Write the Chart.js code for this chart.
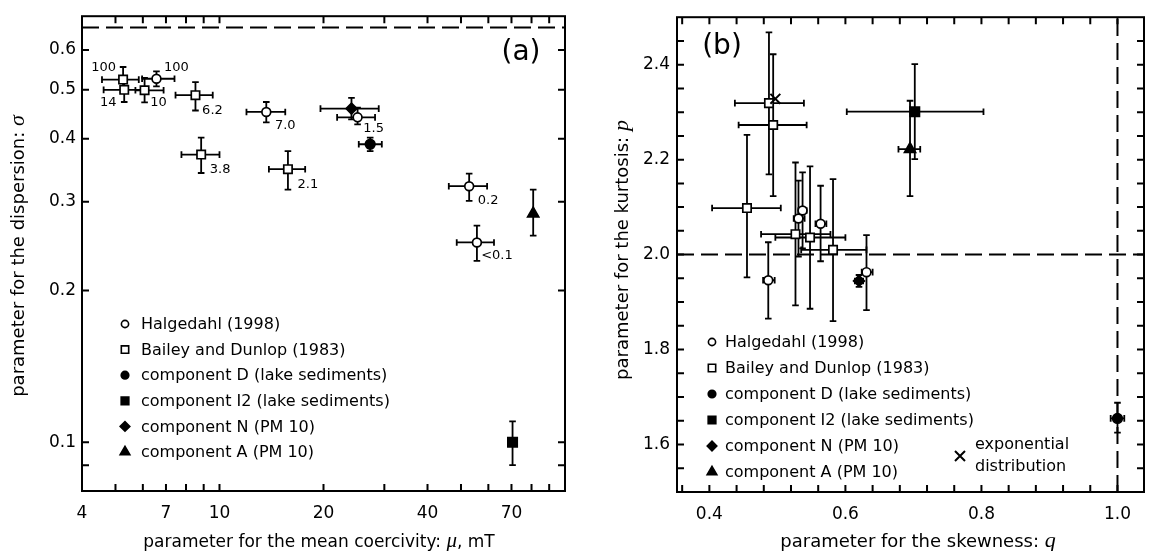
<!DOCTYPE html>
<html><head><meta charset="utf-8">
<script src="https://cdn.jsdelivr.net/npm/chart.js@4.4.1/dist/chart.umd.min.js"></script>
<style>
html,body{margin:0;padding:0;background:#fff;}
#wrap{position:relative;width:1153px;height:551px;overflow:hidden;background:#fff;}
#cA{position:absolute;left:0;top:0;}
#cB{position:absolute;left:580px;top:0;}
</style></head><body>
<div id="wrap"><canvas id="cA" width="580" height="551"></canvas><canvas id="cB" width="573" height="551"></canvas></div>
<script>
// ---------------- Panel (a): mean coercivity mu (mT) vs dispersion sigma ----------------
const muTickLabels    = [4, 7, 10, 20, 40, 70];
const muTickMarks     = [5, 6, 7, 8, 9, 10, 20, 30, 40, 50, 60, 70, 80, 90];
const sigmaTickLabels = [0.1, 0.2, 0.3, 0.4, 0.5, 0.6];
const sigmaTickMarks  = [0.09, 0.1, 0.2, 0.3, 0.4, 0.5, 0.6];
const sigmaLimit      = 0.665;

const halgA_mu    = [6.57, 13.66, 25.1, 52.8, 55.6];
const halgA_sig   = [0.526, 0.452, 0.441, 0.322, 0.249];
const halgA_muLo  = [5.97, 11.97, 21.9, 46.1, 48.6];
const halgA_muHi  = [7.41, 15.5, 28.2, 59.5, 62.3];
const halgA_sigLo = [0.508, 0.431, 0.427, 0.301, 0.229];
const halgA_sigHi = [0.544, 0.473, 0.461, 0.341, 0.269];
const halgA_text  = ['100', '7.0', '1.5', '0.2', '<0.1'];

const bailA_mu    = [5.26, 5.30, 6.07, 8.52, 8.85, 15.78];
const bailA_sig   = [0.524, 0.500, 0.499, 0.488, 0.372, 0.348];
const bailA_muLo  = [4.57, 4.62, 5.71, 7.46, 7.76, 13.9];
const bailA_muHi  = [5.84, 6.02, 6.89, 9.56, 10.0, 17.7];
const bailA_sigLo = [0.495, 0.473, 0.472, 0.455, 0.342, 0.317];
const bailA_sigHi = [0.555, 0.528, 0.528, 0.518, 0.402, 0.378];
const bailA_text  = ['100', '14', '10', '6.2', '3.8', '2.1'];

const compDA_mu = [27.3], compDA_sig = [0.390], compDA_muLo = [25.3], compDA_muHi = [29.5], compDA_sigLo = [0.378], compDA_sigHi = [0.402];
const compI2A_mu = [70.5], compI2A_sig = [0.100], compI2A_sigLo = [0.090], compI2A_sigHi = [0.110];
const compNA_mu = [24.1], compNA_sig = [0.459], compNA_muLo = [19.6], compNA_muHi = [28.9], compNA_sigLo = [0.437], compNA_sigHi = [0.482];
const compAA_mu = [80.9], compAA_sig = [0.284], compAA_sigLo = [0.257], compAA_sigHi = [0.317];

// ---------------- Panel (b): skewness q vs kurtosis p ----------------
const qTickLabels = [0.4, 0.6, 0.8, 1.0];
const qTickMarks  = [0.36, 0.40, 0.44, 0.48, 0.52, 0.56, 0.60, 0.64, 0.68, 0.72, 0.76, 0.80, 0.84, 0.88, 0.92, 0.96, 1.00];
const pTickLabels = [1.6, 1.8, 2.0, 2.2, 2.4];
const pTickMarks  = [1.55, 1.60, 1.65, 1.70, 1.75, 1.80, 1.85, 1.90, 1.95, 2.00, 2.05, 2.10, 2.15, 2.20, 2.25, 2.30, 2.35, 2.40, 2.45];
const pGauss = 2.0, qSym = 1.0;

const halgB_q   = [0.537, 0.531, 0.5635, 0.4866, 0.631];
const halgB_p   = [2.093, 2.076, 2.065, 1.946, 1.963];
const halgB_qLo = [0.531, 0.524, 0.556, 0.479, 0.624];
const halgB_qHi = [0.543, 0.540, 0.572, 0.496, 0.640];
const halgB_pLo = [2.013, 1.996, 1.986, 1.865, 1.883];
const halgB_pHi = [2.173, 2.156, 2.145, 2.026, 2.041];

const bailB_q   = [0.4876, 0.4938, 0.4553, 0.5266, 0.548, 0.5818];
const bailB_p   = [2.319, 2.273, 2.098, 2.043, 2.036, 2.010];
const bailB_qLo = [0.4375, 0.443, 0.404, 0.476, 0.497, 0.535];
const bailB_qHi = [0.539, 0.543, 0.505, 0.578, 0.600, 0.631];
const bailB_pLo = [2.169, 2.123, 1.952, 1.893, 1.886, 1.860];
const bailB_pHi = [2.468, 2.422, 2.252, 2.194, 2.186, 2.159];

const compDB_q = [1.0], compDB_p = [1.655], compDB_qLo = [0.99], compDB_qHi = [1.01], compDB_pLo = [1.625], compDB_pHi = [1.688];
const compI2B_q = [0.702], compI2B_p = [2.301], compI2B_qLo = [0.602], compI2B_qHi = [0.803], compI2B_pLo = [2.201], compI2B_pHi = [2.401];
const compNB_q = [0.620], compNB_p = [1.9445], compNB_qLo = [0.614], compNB_qHi = [0.626], compNB_pLo = [1.932], compNB_pHi = [1.957];
const compAB_q = [0.695], compAB_p = [2.222], compAB_qLo = [0.678], compAB_qHi = [0.710], compAB_pLo = [2.123], compAB_pHi = [2.324];
const expo_q = [0.497], expo_p = [2.328];

const legendLabels = ['Halgedahl (1998)', 'Bailey and Dunlop (1983)', 'component D (lake sediments)',
  'component I2 (lake sediments)', 'component N (PM 10)', 'component A (PM 10)'];
const expoLabel = ['exponential', 'distribution'];

// ---------------- styles ----------------
const SANS = '"DejaVu Sans", "Liberation Sans", sans-serif';
const SERIF_I = 'italic 22px "Liberation Serif", "DejaVu Serif", serif';
const TITLE_FONT = '18px ' + SANS;
const XTITLE_FONT = '17px ' + SANS;
const XSERIF_I = 'italic 21px "Liberation Serif", "DejaVu Serif", serif';
const styles = [
  {pointStyle: 'circle',   radius: 4.4, bg: '#fff', lr: 3.6},
  {pointStyle: 'rect',     radius: 5.9, bg: '#fff', lr: 5.2},
  {pointStyle: 'circle',   radius: 4.8, bg: '#000', lr: 3.8},
  {pointStyle: 'rect',     radius: 6.6, bg: '#000', lr: 5.4},
  {pointStyle: 'rectRot',  radius: 5.4, bg: '#000', lr: 4.8},
  {pointStyle: 'triangle', radius: 6.4, bg: '#000', lr: 5.6}
];
const halgLabelOffsets = [[20, -11.5], [19, 13.5], [16, 11], [19, 14], [20, 13]];
const bailLabelOffsets = [[-19.5, -11.7], [-16, 12.5], [14, 12.5], [17, 15], [19, 15], [20, 15]];

function pts(xs, ys) { return xs.map((v, i) => ({x: v, y: ys[i]})); }
function errs(n, xl, xh, yl, yh) {
  const out = [];
  for (let i = 0; i < n; i++) out.push({xl: xl ? xl[i] : null, xh: xh ? xh[i] : null, yl: yl ? yl[i] : null, yh: yh ? yh[i] : null});
  return out;
}
function markerDs(label, styleIdx, data, err, extra) {
  const s = styles[styleIdx];
  return Object.assign({
    label, data, err,
    pointStyle: s.pointStyle, pointRadius: s.radius,
    pointBackgroundColor: s.bg, pointBorderColor: '#000', pointBorderWidth: 1.7,
    showLine: false, order: 1
  }, extra || {});
}
function lineDs(data) {
  return {label: 'ref', data, showLine: true, borderColor: '#000', borderWidth: 2,
    borderDash: [17, 7], pointRadius: 0, order: 10, fill: false};
}

const errPlugin = {
  id: 'errbars',
  beforeDatasetsDraw(chart) {
    const ctx = chart.ctx, xs = chart.scales.x, ys = chart.scales.y;
    ctx.save(); ctx.strokeStyle = '#000'; ctx.lineWidth = 1.8; ctx.setLineDash([]);
    const cap = 3.3;
    chart.data.datasets.forEach(ds => {
      if (!ds.err) return;
      ds.data.forEach((pt, i) => {
        const e = ds.err[i];
        const px = xs.getPixelForValue(pt.x), py = ys.getPixelForValue(pt.y);
        ctx.beginPath();
        if (e.xl != null) {
          const a = xs.getPixelForValue(e.xl), b = xs.getPixelForValue(e.xh);
          ctx.moveTo(a, py); ctx.lineTo(b, py);
          ctx.moveTo(a, py - cap); ctx.lineTo(a, py + cap);
          ctx.moveTo(b, py - cap); ctx.lineTo(b, py + cap);
        }
        if (e.yl != null) {
          const a = ys.getPixelForValue(e.yl), b = ys.getPixelForValue(e.yh);
          ctx.moveTo(px, a); ctx.lineTo(px, b);
          ctx.moveTo(px - cap, a); ctx.lineTo(px + cap, a);
          ctx.moveTo(px - cap, b); ctx.lineTo(px + cap, b);
        }
        ctx.stroke();
      });
    });
    ctx.restore();
  }
};

function makeFrame(xMarks, yMarks) {
  return {
    id: 'frame',
    afterDatasetsDraw(chart) {
      const ctx = chart.ctx, a = chart.chartArea, xs = chart.scales.x, ys = chart.scales.y;
      const len = 7;
      ctx.save(); ctx.strokeStyle = '#000'; ctx.lineWidth = 2; ctx.setLineDash([]);
      ctx.strokeRect(a.left, a.top, a.right - a.left, a.bottom - a.top);
      ctx.beginPath();
      xMarks.forEach(v => { const x = xs.getPixelForValue(v);
        ctx.moveTo(x, a.bottom); ctx.lineTo(x, a.bottom - len);
        ctx.moveTo(x, a.top); ctx.lineTo(x, a.top + len); });
      yMarks.forEach(v => { const y = ys.getPixelForValue(v);
        ctx.moveTo(a.left, y); ctx.lineTo(a.left + len, y);
        ctx.moveTo(a.right, y); ctx.lineTo(a.right - len, y); });
      ctx.stroke(); ctx.restore();
    }
  };
}

function drawMarker(ctx, s, x, y, r) {
  ctx.save(); ctx.fillStyle = s.bg; ctx.strokeStyle = '#000'; ctx.lineWidth = 1.6;
  ctx.beginPath();
  if (s.pointStyle === 'circle') ctx.arc(x, y, r, 0, Math.PI * 2);
  else if (s.pointStyle === 'rect') { const h = r * Math.SQRT1_2; ctx.rect(x - h, y - h, 2 * h, 2 * h); }
  else if (s.pointStyle === 'rectRot') { ctx.moveTo(x - r, y); ctx.lineTo(x, y - r); ctx.lineTo(x + r, y); ctx.lineTo(x, y + r); ctx.closePath(); }
  else if (s.pointStyle === 'triangle') { ctx.moveTo(x, y - r); ctx.lineTo(x + r * 0.866, y + r * 0.5); ctx.lineTo(x - r * 0.866, y + r * 0.5); ctx.closePath(); }
  ctx.fill(); ctx.stroke(); ctx.restore();
}

function drawTitle(ctx, parts, x, y, rotate) {
  ctx.save(); ctx.translate(x, y); if (rotate) ctx.rotate(-Math.PI / 2);
  let total = 0;
  parts.forEach(p => { ctx.font = p[1]; total += ctx.measureText(p[0]).width; });
  let cx = -total / 2; ctx.textBaseline = 'alphabetic'; ctx.textAlign = 'left'; ctx.fillStyle = '#000';
  parts.forEach(p => { ctx.font = p[1]; ctx.fillText(p[0], cx, 6); cx += ctx.measureText(p[0]).width; });
  ctx.restore();
}

function makeText(cfg) {
  return {
    id: 'annot',
    afterDraw(chart) {
      const ctx = chart.ctx, xs = chart.scales.x, ys = chart.scales.y;
      ctx.save(); ctx.fillStyle = '#000'; ctx.textBaseline = 'middle';
      ctx.font = '28px ' + SANS; ctx.textAlign = 'center';
      ctx.fillText(cfg.panel, cfg.panelPos[0], cfg.panelPos[1]);
      ctx.font = '13px ' + SANS;
      chart.data.datasets.forEach(ds => {
        if (!ds.ptText) return;
        ds.data.forEach((pt, i) => {
          const px = xs.getPixelForValue(pt.x), py = ys.getPixelForValue(pt.y);
          ctx.fillText(ds.ptText[i], px + ds.ptOff[i][0], py + ds.ptOff[i][1]);
        });
      });
      ctx.font = '16px ' + SANS; ctx.textAlign = 'left';
      legendLabels.forEach((t, i) => {
        const y = cfg.legY + i * cfg.legDy;
        drawMarker(ctx, styles[i], cfg.legX, y, styles[i].lr);
        ctx.fillStyle = '#000';
        ctx.fillText(t, cfg.legTx, y + 1);
      });
      if (cfg.expo) {
        ctx.font = '16px ' + SANS;
        ctx.fillText(expoLabel[0], cfg.expo[0] + 15, cfg.expo[1] - 11);
        ctx.fillText(expoLabel[1], cfg.expo[0] + 15, cfg.expo[1] + 11);
        ctx.beginPath(); ctx.lineWidth = 2; ctx.strokeStyle = '#000';
        const r = 5;
        ctx.moveTo(cfg.expo[0] - r, cfg.expo[1] - r); ctx.lineTo(cfg.expo[0] + r, cfg.expo[1] + r);
        ctx.moveTo(cfg.expo[0] + r, cfg.expo[1] - r); ctx.lineTo(cfg.expo[0] - r, cfg.expo[1] + r);
        ctx.stroke();
      }
      drawTitle(ctx, cfg.yTitle, cfg.yTitlePos[0], cfg.yTitlePos[1], true);
      drawTitle(ctx, cfg.xTitle, cfg.xTitlePos[0], cfg.xTitlePos[1], false);
      ctx.restore();
    }
  };
}

function axis(type, min, max, labels, fmt, fit, pad) {
  return {
    type, min, max,
    afterBuildTicks(s) { s.ticks = labels.map(v => ({value: v})); },
    afterFit(s) { if (fit.w != null) s.width = fit.w; if (fit.h != null) s.height = fit.h; },
    ticks: {callback: v => fmt(v), font: {family: SANS, size: 17}, color: '#000', padding: pad,
      autoSkip: false, maxRotation: 0, minRotation: 0},
    grid: {display: false, drawTicks: false, drawOnChartArea: false},
    border: {display: false}
  };
}

Chart.defaults.font.family = SANS;

new Chart(document.getElementById('cA'), {
  type: 'scatter',
  data: {datasets: [
    lineDs([{x: 4, y: sigmaLimit}, {x: 100, y: sigmaLimit}]),
    markerDs(legendLabels[1], 1, pts(bailA_mu, bailA_sig), errs(6, bailA_muLo, bailA_muHi, bailA_sigLo, bailA_sigHi), {ptText: bailA_text, ptOff: bailLabelOffsets}),
    markerDs(legendLabels[0], 0, pts(halgA_mu, halgA_sig), errs(5, halgA_muLo, halgA_muHi, halgA_sigLo, halgA_sigHi), {ptText: halgA_text, ptOff: halgLabelOffsets}),
    markerDs(legendLabels[2], 2, pts(compDA_mu, compDA_sig), errs(1, compDA_muLo, compDA_muHi, compDA_sigLo, compDA_sigHi)),
    markerDs(legendLabels[3], 3, pts(compI2A_mu, compI2A_sig), errs(1, null, null, compI2A_sigLo, compI2A_sigHi)),
    markerDs(legendLabels[4], 4, pts(compNA_mu, compNA_sig), errs(1, compNA_muLo, compNA_muHi, compNA_sigLo, compNA_sigHi)),
    markerDs(legendLabels[5], 5, pts(compAA_mu, compAA_sig), errs(1, null, null, compAA_sigLo, compAA_sigHi))
  ]},
  options: {
    responsive: false, animation: false, devicePixelRatio: 1, events: [],
    layout: {padding: {top: 12, right: 15, left: 0, bottom: 0}},
    plugins: {legend: {display: false}, tooltip: {enabled: false}},
    scales: {
      x: axis('logarithmic', 4, 100, muTickLabels, v => String(v), {h: 60}, 12),
      y: axis('logarithmic', 0.08, 0.7, sigmaTickLabels, v => Number(v).toFixed(1), {w: 82}, 6)
    }
  },
  plugins: [errPlugin, makeFrame(muTickMarks, sigmaTickMarks), makeText({
    panel: '(a)', panelPos: [521, 53],
    legX: 125, legTx: 141, legY: 324, legDy: 25.6,
    yTitle: [['parameter for the dispersion: ', TITLE_FONT], ['σ', SERIF_I]], yTitlePos: [18, 256],
    xTitle: [['parameter for the mean coercivity: ', XTITLE_FONT], ['μ', XSERIF_I], [', mT', XTITLE_FONT]], xTitlePos: [319, 541]
  })]
});

new Chart(document.getElementById('cB'), {
  type: 'scatter',
  data: {datasets: [
    lineDs([{x: 0.3524, y: pGauss}, {x: 1.039, y: pGauss}]),
    lineDs([{x: qSym, y: 1.5}, {x: qSym, y: 2.5}]),
    markerDs(legendLabels[1], 1, pts(bailB_q, bailB_p), errs(6, bailB_qLo, bailB_qHi, bailB_pLo, bailB_pHi)),
    markerDs(legendLabels[0], 0, pts(halgB_q, halgB_p), errs(5, halgB_qLo, halgB_qHi, halgB_pLo, halgB_pHi)),
    markerDs(legendLabels[2], 2, pts(compDB_q, compDB_p), errs(1, compDB_qLo, compDB_qHi, compDB_pLo, compDB_pHi)),
    markerDs(legendLabels[3], 3, pts(compI2B_q, compI2B_p), errs(1, compI2B_qLo, compI2B_qHi, compI2B_pLo, compI2B_pHi)),
    markerDs(legendLabels[4], 4, pts(compNB_q, compNB_p), errs(1, compNB_qLo, compNB_qHi, compNB_pLo, compNB_pHi)),
    markerDs(legendLabels[5], 5, pts(compAB_q, compAB_p), errs(1, compAB_qLo, compAB_qHi, compAB_pLo, compAB_pHi)),
    {label: 'exponential distribution', data: pts(expo_q, expo_p), pointStyle: 'crossRot', pointRadius: 7,
     pointBorderColor: '#000', pointBorderWidth: 2, order: 0}
  ]},
  options: {
    responsive: false, animation: false, devicePixelRatio: 1, events: [],
    layout: {padding: {top: 9, right: 0, left: 0, bottom: 0}},
    plugins: {legend: {display: false}, tooltip: {enabled: false}},
    scales: {
      x: axis('linear', 0.3524, 1.039, qTickLabels, v => Number(v).toFixed(1), {h: 59}, 12),
      y: axis('linear', 1.5, 2.5, pTickLabels, v => Number(v).toFixed(1), {w: 97}, 7)
    }
  },
  plugins: [errPlugin, makeFrame(qTickMarks, pTickMarks), makeText({
    panel: '(b)', panelPos: [142, 47],
    legX: 132, legTx: 145, legY: 342, legDy: 26,
    expo: [380, 456],
    yTitle: [['parameter for the kurtosis: ', TITLE_FONT], ['p', SERIF_I]], yTitlePos: [42, 250],
    xTitle: [['parameter for the skewness: ', TITLE_FONT], ['q', SERIF_I]], xTitlePos: [338, 541]
  })]
});
</script>
</body></html>
